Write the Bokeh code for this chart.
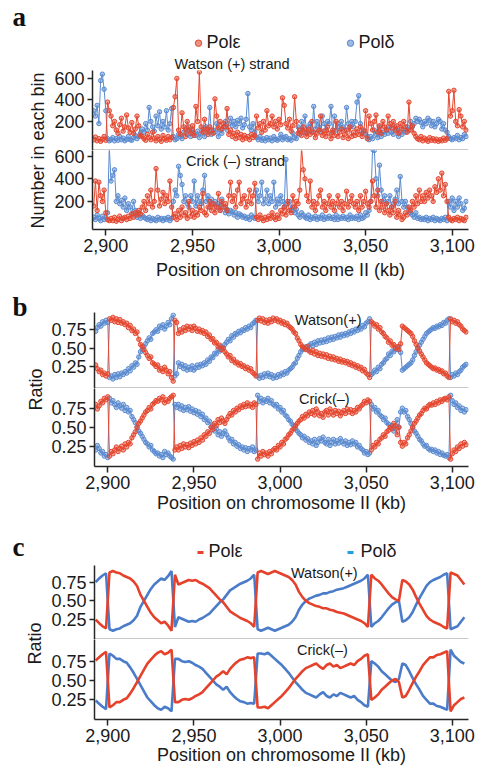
import numpy as np
from bokeh.plotting import figure
from bokeh.layouts import column, row
from bokeh.models import Range1d, FixedTicker, NumeralTickFormatter, Span, Label
from bokeh.embed import file_html
from bokeh.resources import INLINE
from bokeh.core.properties import value

# ---------------- data ----------------
# 1-kb bins for panels a and b, 2-kb steps for the smoothed panel c
fine_positions_kb = [2893 + i for i in range(216)]
coarse_positions_kb = [2893 + 2 * i for i in range(108)]
x_ticks = [2900, 2950, 3000, 3050, 3100]
count_ticks = [200, 400, 600]
ratio_ticks = [0.25, 0.50, 0.75]

# panel a: number of reads in each bin
watson_eps_counts = [
    30, 55, 20, 40, 15, 35, 60, 25, 380, 300,
    250, 160, 200, 120, 90, 170, 230, 110, 150, 260,
    140, 100, 190, 90, 130, 250, 160, 70, 60, 40,
    25, 80, 50, 30, 100, 45, 20, 60, 35, 15,
    70, 40, 25, 60, 30, 50, 330, 430, 600, 120,
    80, 280, 150, 60, 200, 120, 90, 160, 70, 340,
    200, 660, 150, 100, 220, 130, 80, 150, 120, 90,
    410, 250, 140, 200, 130, 180, 150, 320, 80, 120,
    60, 90, 40, 100, 50, 80, 30, 70, 45, 60,
    30, 80, 50, 70, 250, 140, 180, 100, 200, 120,
    300, 160, 180, 250, 150, 200, 130, 220, 170, 420,
    350, 180, 140, 220, 110, 160, 430, 200, 90, 120,
    70, 150, 100, 60, 130, 80, 200, 100, 50, 90,
    120, 250, 70, 110, 60, 150, 90, 40, 120, 70,
    200, 60, 100, 130, 50, 80, 120, 40, 150, 60,
    100, 70, 130, 80, 150, 60, 110, 300, 40, 250,
    180, 120, 200, 260, 100, 160, 90, 200, 150, 120,
    250, 180, 140, 200, 120, 160, 90, 180, 130, 200,
    150, 100, 380, 120, 160, 90, 60, 40, 30, 60,
    20, 45, 30, 15, 50, 25, 40, 20, 35, 15,
    30, 20, 45, 25, 40, 480, 250, 300, 490, 200,
    160, 310, 250, 150, 200, 120]
watson_delta_counts = [
    300, 250, 350, 180, 580, 640, 500, 300, 40, 20,
    30, 50, 20, 40, 25, 60, 30, 45, 20, 35,
    60, 30, 25, 50, 70, 40, 60, 90, 130, 100,
    180, 120, 330, 200, 150, 110, 250, 160, 290, 130,
    200, 150, 300, 120, 180, 320, 60, 30, 40, 80,
    60, 40, 100, 130, 80, 150, 60, 120, 90, 70,
    110, 50, 90, 130, 60, 150, 100, 330, 80, 120,
    100, 180, 60, 120, 90, 150, 200, 120, 180, 230,
    160, 200, 150, 210, 180, 230, 140, 170, 220, 460,
    150, 120, 180, 100, 50, 30, 60, 25, 40, 20,
    50, 30, 45, 20, 60, 35, 25, 40, 80, 30,
    50, 60, 30, 40, 25, 90, 50, 40, 150, 80,
    200, 120, 250, 90, 150, 180, 100, 340, 130, 200,
    150, 100, 250, 180, 120, 200, 180, 340, 100, 250,
    120, 180, 150, 200, 150, 120, 330, 180, 150, 200,
    150, 200, 380, 440, 180, 90, 120, 80, 60, 30,
    60, 40, 120, 80, 50, 150, 60, 100, 80, 130,
    90, 150, 100, 80, 150, 120, 60, 100, 80, 120,
    100, 150, 120, 200, 150, 180, 230, 200, 220, 190,
    150, 200, 180, 230, 210, 160, 200, 150, 180, 220,
    200, 130, 180, 120, 100, 60, 40, 30, 50, 40,
    70, 30, 50, 40, 80, 60]
crick_eps_counts = [
    160, 380, 120, 370, 250, 200, 300, 100, 40, 30,
    50, 30, 60, 25, 40, 70, 30, 50, 60, 40,
    70, 50, 90, 60, 100, 80, 120, 90, 150, 200,
    120, 250, 180, 300, 150, 200, 490, 300, 160, 220,
    280, 180, 250, 200, 380, 150, 60, 90, 40, 120,
    60, 150, 80, 100, 50, 200, 70, 120, 60, 100,
    80, 150, 120, 270, 100, 80, 150, 200, 120, 180,
    100, 150, 270, 120, 200, 150, 180, 120, 250, 370,
    200, 250, 150, 300, 370, 180, 220, 250, 150, 200,
    300, 180, 250, 360, 60, 40, 80, 50, 30, 60,
    40, 70, 50, 100, 60, 40, 80, 50, 120, 90,
    150, 80, 200, 120, 100, 250, 150, 200, 180, 300,
    680, 480, 400, 250, 200, 380, 150, 200, 120, 180,
    250, 300, 150, 200, 120, 180, 250, 150, 200, 120,
    180, 250, 150, 200, 120, 180, 290, 150, 200, 250,
    180, 150, 200, 120, 250, 150, 200, 290, 180, 150,
    200, 380, 250, 150, 300, 120, 200, 150, 100, 180,
    120, 80, 150, 100, 200, 60, 120, 80, 40, 60,
    100, 80, 150, 120, 200, 150, 250, 180, 300, 200,
    250, 200, 280, 230, 300, 250, 200, 330, 280, 400,
    300, 450, 250, 350, 200, 60, 40, 30, 50, 40,
    60, 30, 50, 40, 30, 60]
crick_delta_counts = [
    60, 40, 80, 50, 30, 70, 40, 60, 100, 680,
    380, 430, 480, 200, 250, 180, 210, 150, 230, 120,
    180, 150, 90, 200, 120, 60, 100, 50, 80, 60,
    50, 40, 60, 30, 50, 40, 30, 60, 40, 50,
    30, 50, 40, 60, 30, 50, 200, 300, 250, 510,
    430, 350, 200, 250, 180, 150, 250, 200, 380, 160,
    250, 200, 180, 300, 430, 200, 250, 150, 220, 180,
    200, 150, 180, 120, 220, 150, 100, 130, 90, 120,
    110, 80, 100, 60, 90, 80, 60, 70, 50, 60,
    40, 80, 60, 50, 300, 200, 250, 370, 180, 220,
    300, 180, 250, 200, 370, 150, 220, 180, 250, 200,
    150, 570, 180, 200, 120, 150, 100, 130, 80, 60,
    100, 80, 60, 50, 80, 40, 60, 50, 70, 40,
    60, 50, 80, 40, 60, 50, 70, 50, 60, 40,
    80, 40, 60, 50, 70, 50, 60, 40, 80, 50,
    60, 50, 70, 40, 80, 50, 60, 100, 80, 120,
    200, 660, 650, 400, 250, 520, 300, 200, 250, 180,
    200, 250, 150, 180, 220, 300, 180, 420, 200, 150,
    200, 150, 120, 100, 80, 60, 100, 50, 60, 40,
    50, 40, 60, 30, 50, 40, 60, 30, 50, 40,
    30, 50, 40, 60, 30, 200, 150, 230, 120, 200,
    150, 230, 180, 120, 140, 200]

# panel b: raw Pol-epsilon ratio per 1-kb bin (Pol-delta ratio is its complement)
ratio_b_watson_eps = [
    0.27, 0.22, 0.18, 0.20, 0.14, 0.16, 0.12, 0.15,
    0.90, 0.88, 0.92, 0.86, 0.90, 0.85, 0.89, 0.84, 0.86, 0.82,
    0.84, 0.78, 0.81, 0.74, 0.76, 0.70, 0.72, 0.62, 0.55, 0.52,
    0.48, 0.44, 0.40, 0.36, 0.38, 0.30, 0.28, 0.25, 0.27, 0.20,
    0.22, 0.18, 0.24, 0.20, 0.15, 0.18, 0.10, 0.05,
    0.88, 0.85, 0.70, 0.75, 0.72, 0.78, 0.74, 0.80, 0.76, 0.79,
    0.74, 0.80, 0.77, 0.73, 0.76, 0.72, 0.74, 0.70, 0.72, 0.66,
    0.68, 0.62, 0.63, 0.57, 0.58, 0.52, 0.54, 0.48, 0.50, 0.45,
    0.42, 0.38, 0.40, 0.33, 0.35, 0.30, 0.31, 0.27, 0.29, 0.25,
    0.26, 0.22, 0.24, 0.20, 0.22, 0.17, 0.15, 0.12,
    0.88, 0.91, 0.87, 0.90, 0.85, 0.88, 0.84, 0.89, 0.86, 0.91,
    0.88, 0.90, 0.86, 0.88, 0.84, 0.86, 0.82, 0.84, 0.80, 0.78,
    0.76, 0.72, 0.70, 0.64, 0.60, 0.55, 0.52, 0.50, 0.48, 0.52,
    0.46, 0.44, 0.47, 0.42, 0.45, 0.40, 0.43, 0.39, 0.42, 0.38,
    0.41, 0.36, 0.39, 0.35, 0.38, 0.34, 0.36, 0.32, 0.35, 0.31,
    0.33, 0.30, 0.32, 0.28, 0.30, 0.26, 0.28, 0.24, 0.26, 0.22,
    0.24, 0.19, 0.21, 0.16, 0.14, 0.10,
    0.86, 0.84, 0.80, 0.82, 0.76, 0.78, 0.72, 0.70, 0.66, 0.64,
    0.58, 0.60, 0.54, 0.55, 0.50, 0.52, 0.48, 0.56,
    0.80, 0.78, 0.76, 0.74, 0.72, 0.70, 0.66, 0.60, 0.55, 0.50,
    0.46, 0.42, 0.38, 0.34, 0.30, 0.28, 0.26, 0.24, 0.22, 0.23,
    0.20, 0.21, 0.18, 0.19, 0.15, 0.16, 0.12, 0.10,
    0.90, 0.86, 0.88, 0.84, 0.86, 0.82, 0.80, 0.76, 0.74, 0.72]
ratio_b_crick_eps = [
    0.80, 0.74, 0.78, 0.84, 0.82, 0.88, 0.86, 0.90,
    0.12, 0.18, 0.15, 0.20, 0.24, 0.18, 0.22, 0.25, 0.20, 0.28,
    0.24, 0.30, 0.28, 0.36, 0.40, 0.44, 0.50, 0.55, 0.58, 0.62,
    0.66, 0.70, 0.72, 0.76, 0.74, 0.80, 0.82, 0.85, 0.84, 0.88,
    0.86, 0.90, 0.82, 0.86, 0.84, 0.88, 0.90, 0.92,
    0.20, 0.24, 0.20, 0.26, 0.22, 0.28, 0.24, 0.27, 0.23, 0.29,
    0.26, 0.31, 0.28, 0.33, 0.30, 0.36, 0.33, 0.40, 0.38, 0.44,
    0.42, 0.50, 0.47, 0.55, 0.52, 0.60, 0.56, 0.62, 0.58, 0.55,
    0.60, 0.64, 0.68, 0.66, 0.72, 0.70, 0.75, 0.73, 0.78, 0.76,
    0.80, 0.77, 0.82, 0.78, 0.80, 0.76, 0.82, 0.80,
    0.08, 0.16, 0.12, 0.18, 0.14, 0.16, 0.12, 0.18, 0.15, 0.20,
    0.22, 0.20, 0.26, 0.24, 0.30, 0.28, 0.34, 0.36, 0.40, 0.42,
    0.46, 0.48, 0.52, 0.55, 0.58, 0.60, 0.64, 0.62, 0.67, 0.65,
    0.70, 0.68, 0.72, 0.66, 0.74, 0.70, 0.65, 0.68, 0.63, 0.70,
    0.72, 0.66, 0.74, 0.70, 0.66, 0.72, 0.68, 0.71, 0.65, 0.69,
    0.72, 0.68, 0.74, 0.70, 0.73, 0.68, 0.72, 0.70, 0.76, 0.74,
    0.78, 0.80, 0.84, 0.82, 0.86, 0.84,
    0.20, 0.26, 0.24, 0.30, 0.28, 0.34, 0.36, 0.40, 0.38, 0.44,
    0.46, 0.50, 0.48, 0.55, 0.52, 0.40, 0.50, 0.30,
    0.25, 0.30, 0.28, 0.36, 0.40, 0.45, 0.50, 0.55, 0.58, 0.62,
    0.66, 0.68, 0.72, 0.75, 0.74, 0.78, 0.80, 0.79, 0.82, 0.80,
    0.84, 0.82, 0.86, 0.84, 0.87, 0.88, 0.86, 0.90,
    0.08, 0.15, 0.20, 0.18, 0.24, 0.22, 0.28, 0.25, 0.30, 0.27]

# panel c: smoothed Pol-epsilon ratio (Pol-delta ratio is its complement)
ratio_c_watson_eps = [0.25, 0.20, 0.16, 0.13,
                      0.88, 0.90, 0.88, 0.87, 0.84, 0.82, 0.80, 0.76, 0.70, 0.58, 0.50, 0.42, 0.34, 0.28, 0.24, 0.20, 0.22, 0.17, 0.10,
                      0.85, 0.72, 0.74, 0.76, 0.78, 0.77, 0.78, 0.75, 0.73, 0.70, 0.67, 0.62, 0.57, 0.52, 0.48, 0.42, 0.36, 0.33, 0.30, 0.27, 0.25, 0.23, 0.20, 0.15,
                      0.88, 0.90, 0.88, 0.86, 0.88, 0.90, 0.88, 0.86, 0.84, 0.82, 0.78, 0.72, 0.62, 0.55, 0.50, 0.47, 0.45, 0.43, 0.42, 0.40,
                      0.40, 0.38, 0.37, 0.35, 0.34, 0.33, 0.31, 0.29, 0.27, 0.25, 0.23, 0.20, 0.15,
                      0.85, 0.80, 0.77, 0.72, 0.66, 0.60, 0.55, 0.52, 0.50, 0.78, 0.76, 0.72, 0.65, 0.55, 0.46, 0.38, 0.30, 0.25, 0.22, 0.20, 0.18, 0.15, 0.13,
                      0.88, 0.86, 0.84, 0.78, 0.72]
ratio_c_crick_eps = [0.76, 0.80, 0.84, 0.87,
                     0.15, 0.18, 0.22, 0.22, 0.25, 0.27, 0.33, 0.40, 0.48, 0.56, 0.64, 0.72, 0.77, 0.82, 0.86, 0.88, 0.84, 0.86, 0.90,
                     0.22, 0.22, 0.25, 0.26, 0.25, 0.27, 0.30, 0.32, 0.35, 0.40, 0.45, 0.50, 0.55, 0.58, 0.62, 0.58, 0.65, 0.70, 0.74, 0.77, 0.78, 0.80, 0.79, 0.80,
                     0.15, 0.15, 0.16, 0.14, 0.18, 0.22, 0.26, 0.30, 0.35, 0.40, 0.46, 0.52, 0.57, 0.62, 0.66, 0.68, 0.70, 0.72, 0.68, 0.65,
                     0.70, 0.72, 0.68, 0.70, 0.66, 0.68, 0.70, 0.72, 0.70, 0.75, 0.78, 0.82, 0.84,
                     0.25, 0.28, 0.32, 0.38, 0.42, 0.46, 0.50, 0.52, 0.48, 0.28, 0.30, 0.38, 0.47, 0.55, 0.62, 0.70, 0.75, 0.80, 0.80, 0.83, 0.84, 0.86, 0.88,
                     0.10, 0.18, 0.22, 0.26, 0.28]

ratio_b_watson_delta = [1 - v for v in ratio_b_watson_eps]
ratio_b_crick_delta = [1 - v for v in ratio_b_crick_eps]
ratio_c_watson_delta = [1 - v for v in ratio_c_watson_eps]
ratio_c_crick_delta = [1 - v for v in ratio_c_crick_eps]

# ---------------- style ----------------
SANS = "Liberation Sans"
SERIF = "Liberation Serif"
RED = "#e5472f"
BLUE = "#5b8bd0"
RED_C = "#e5412b"
BLUE_C = "#4a7cc9"
BLUE_LEG = "#1e9fe0"
AXIS = "#262626"
TXT = "#1a1a1a"
X_START, X_END = 2892.3, 3109.4
SIDE_W = 48
MAIN_W = 482 - SIDE_W
OVERLAP = 12  # transparent top border of each Crick figure laid over its Watson figure


def blank(w, h):
    p = figure(width=w, height=h, x_range=Range1d(0, w), y_range=Range1d(0, h),
               output_backend="svg", toolbar_location=None, min_border=0,
               x_axis_location=None, y_axis_location=None)
    p.outline_line_color = None
    p.grid.visible = False
    return p


def style_axis(ax):
    ax.major_tick_in = 0
    ax.minor_tick_in = 0
    ax.minor_tick_out = 0
    ax.major_label_standoff = 3
    ax.major_label_text_font = SANS
    ax.major_label_text_font_size = "18px"
    ax.major_label_text_color = TXT
    ax.axis_line_color = AXIS
    ax.axis_line_width = 1.5
    ax.major_tick_line_color = AXIS
    ax.major_tick_line_width = 1.5


def strand_fig(h, top, bottom, yr, ticks, fmt, with_x, label_standoff=0):
    p = figure(width=MAIN_W, height=h, x_range=Range1d(X_START, X_END), y_range=Range1d(*yr),
               output_backend="svg", toolbar_location=None,
               min_border_left=44, min_border_right=14, min_border_top=top, min_border_bottom=bottom,
               x_axis_location="below" if with_x else None)
    p.outline_line_color = None
    p.grid.visible = False
    ya = p.yaxis[0]
    ya.ticker = FixedTicker(ticks=ticks)
    ya.formatter = NumeralTickFormatter(format=fmt)
    ya.major_tick_out = 5
    style_axis(ya)
    if with_x:
        # Crick figure: its top border overlaps the Watson figure and is transparent
        p.height = h + OVERLAP
        p.min_border_top = OVERLAP
        p.margin = (-OVERLAP, 0, 0, 0)
        p.border_fill_color = None
        p.background_fill_color = None
        xa = p.xaxis[0]
        xa.ticker = FixedTicker(ticks=x_ticks)
        xa.formatter = NumeralTickFormatter(format="0,0")
        xa.major_tick_out = 6
        style_axis(xa)
        xa.axis_label = "Position on chromosome II (kb)"
        xa.axis_label_text_font = SANS
        xa.axis_label_text_font_style = "normal"
        xa.axis_label_text_font_size = "18px"
        xa.axis_label_text_color = TXT
        xa.axis_label_standoff = label_standoff
    else:
        p.add_layout(Span(location=yr[0], dimension="width", line_color=AXIS, line_width=1.5))
    return p


def add_label(p, x, y, text):
    p.add_layout(Label(x=x, y=y, text=text, text_align="center", text_baseline="middle",
                       text_font=SANS, text_font_size="14.5px", text_color=TXT))


def points(p, ys, color):
    p.line(fine_positions_kb, ys, line_color=color, line_width=1)
    p.scatter(fine_positions_kb, ys, marker="circle", size=4.4, line_color=color, line_width=1,
              fill_color=color, fill_alpha=0.5)


def letter(p, x, y, t):
    p.text(x=[x], y=[y], text=[t], text_font=value(SERIF), text_font_style="bold",
           text_font_size="27px", text_baseline="middle", text_align="left", text_color="#111")


# ---------------- panel a ----------------
HA = 54
header_a = blank(482, HA)
letter(header_a, 12, HA - 16, "a")
header_a.scatter(x=[198, 350], y=[HA - 42.7, HA - 42.7], marker="circle", size=6.5,
                 line_color=[RED, BLUE], fill_color=[RED, BLUE], fill_alpha=0.6)
header_a.text(x=[206, 358], y=[HA - 41.7, HA - 41.7], text=["Polε", "Polδ"], text_font=value(SANS),
              text_font_size="18px", text_baseline="middle", text_align="left", text_color=TXT)

side_a = blank(SIDE_W, 290 - HA)
side_a.text(x=[37], y=[290 - 150], text=["Number in each bin"], angle=np.pi / 2, text_font=value(SANS),
            text_font_size="18px", text_baseline="middle", text_align="center", text_color=TXT)

fig_aW = strand_fig(150 - HA, 70 - HA, 0, (-70, 674), count_ticks, "0", False)
fig_aW.title.text = "Watson (+) strand"
fig_aW.title.align = "left"
fig_aW.title.offset = 82
fig_aW.title.standoff = -3
fig_aW.title.text_font = SANS
fig_aW.title.text_font_style = "normal"
fig_aW.title.text_font_size = "14.5px"
fig_aW.title.text_color = TXT
points(fig_aW, watson_delta_counts, BLUE)
points(fig_aW, watson_eps_counts, RED)

fig_aC = strand_fig(140, 0, 61, (-48, 650), count_ticks, "0", True, 5)
points(fig_aC, crick_delta_counts, BLUE)
points(fig_aC, crick_eps_counts, RED)
add_label(fig_aC, 2974.9, 557, "Crick (–) strand")

# ---------------- panel b ----------------
side_b = blank(SIDE_W, 230)
letter(side_b, 12, 214, "b")
side_b.text(x=[35], y=[131], text=["Ratio"], angle=np.pi / 2, text_font=value(SANS),
            text_font_size="18px", text_baseline="middle", text_align="center", text_color=TXT)

fig_bW = strand_fig(98, 22, 0, (-0.05, 0.986), ratio_ticks, "0.00", False)
points(fig_bW, ratio_b_watson_delta, BLUE)
points(fig_bW, ratio_b_watson_eps, RED)
add_label(fig_bW, 3027.9, 0.885, "Watson(+)")

fig_bC = strand_fig(132, 0, 54, (-0.017, 1.009), ratio_ticks, "0.00", True, 1)
points(fig_bC, ratio_b_crick_delta, BLUE)
points(fig_bC, ratio_b_crick_eps, RED)
add_label(fig_bC, 3025.7, 0.877, "Crick(–)")

# ---------------- panel c ----------------
HC = 43
header_c = blank(482, HC)
letter(header_c, 12, HC - 26, "c")
header_c.rect(x=[200, 350], y=[HC - 32, HC - 32], width=6, height=3,
              fill_color=[RED_C, BLUE_LEG], line_color=None)
header_c.text(x=[208, 360], y=[HC - 30.2, HC - 30.2], text=["Polε", "Polδ"], text_font=value(SANS),
              text_font_size="18px", text_baseline="middle", text_align="left", text_color=TXT)

side_c = blank(SIDE_W, 253 - HC)
side_c.text(x=[34], y=[773 - 643], text=["Ratio"], angle=np.pi / 2, text_font=value(SANS),
            text_font_size="18px", text_baseline="middle", text_align="center", text_color=TXT)

fig_cW = strand_fig(79 - (HC - 40), 5 - (HC - 40), 0, (-0.018, 0.974), ratio_ticks, "0.00", False)
fig_cW.line(coarse_positions_kb, ratio_c_watson_delta, line_color=BLUE_C, line_width=2.6)
fig_cW.line(coarse_positions_kb, ratio_c_watson_eps, line_color=RED_C, line_width=2.6)
add_label(fig_cW, 3025.7, 0.867, "Watson(+)")

fig_cC = strand_fig(134, 0, 54, (-0.005, 1.031), ratio_ticks, "0.00", True, 0)
fig_cC.line(coarse_positions_kb, ratio_c_crick_delta, line_color=BLUE_C, line_width=2.6)
fig_cC.line(coarse_positions_kb, ratio_c_crick_eps, line_color=RED_C, line_width=2.6)
add_label(fig_cC, 3024.6, 0.90, "Crick(–)")

layout = column(
    header_a,
    row(side_a, column(fig_aW, fig_aC, spacing=0), spacing=0),
    row(side_b, column(fig_bW, fig_bC, spacing=0), spacing=0),
    header_c,
    row(side_c, column(fig_cW, fig_cC, spacing=0), spacing=0),
    spacing=0,
)

open("out.html", "w").write(file_html(layout, INLINE))
